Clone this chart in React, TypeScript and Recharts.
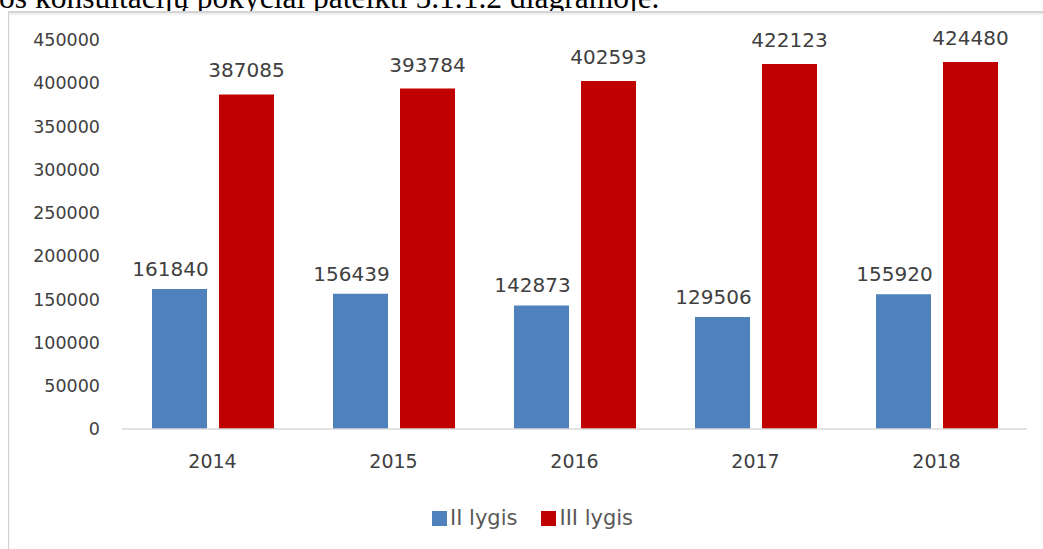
import React from "react";
import { BarChart, Bar, XAxis, YAxis, LabelList } from "recharts";

const years = ["2014", "2015", "2016", "2017", "2018"];
const level2 = [161840, 156439, 142873, 129506, 155920];
const level3 = [387085, 393784, 402593, 422123, 424480];
const yTicks = [0, 50000, 100000, 150000, 200000, 250000, 300000, 350000, 400000, 450000];
const seriesNames = ["II lygis", "III lygis"];
const colors = ["#4F81BD", "#C00000"];

const data = years.map((y, i) => ({ year: y, l2: level2[i], l3: level3[i] }));

const FONT = "'DejaVu Sans', sans-serif";

const makeLabel = (dx: number, gap: number) => (props: any) => {
  const { x, y, width, value } = props;
  return (
    <text
      x={Number(x) + Number(width) / 2 + dx}
      y={Number(y) - gap}
      textAnchor="middle"
      fontFamily={FONT}
      fontSize={20}
      fill="#404040"
    >
      {value}
    </text>
  );
};

export default function App() {
  const CL = 9;
  const CT = 13;
  return (
    <div
      style={{
        position: "absolute",
        left: 0,
        top: 0,
        width: 1043,
        height: 549,
        overflow: "hidden",
        background: "#fff",
      }}
    >
      <div
        style={{
          position: "absolute",
          left: -1,
          top: -18,
          fontFamily: "'Liberation Serif', serif",
          fontSize: 31.5,
          lineHeight: "31px",
          color: "#000",
          whiteSpace: "nowrap",
        }}
      >
        os konsultacijų pokyčiai pateikti 5.1.1.2 diagramoje.
      </div>
      <div
        style={{
          position: "absolute",
          left: 8,
          top: 11,
          width: 1060,
          height: 560,
          borderTop: "2px solid #d4d4d4",
          borderLeft: "1px solid #d0d0d0",
          boxShadow: "inset 0 2px 2px #eee",
          background: "#fff",
        }}
      />
      <div style={{ position: "absolute", left: CL, top: CT }}>
        <BarChart
          width={1034}
          height={536}
          data={data}
          margin={{ top: 27, right: 16, left: 0, bottom: 0 }}
          barGap={12}
          barSize={55}
        >
          <YAxis
            width={113}
            domain={[0, 450000]}
            ticks={yTicks}
            interval={0}
            axisLine={false}
            tickLine={false}
            tickSize={0}
            tickMargin={22}
            tick={{ fontFamily: FONT, fontSize: 17.5, fill: "#404040" }}
          />
          <XAxis
            dataKey="year"
            height={120}
            axisLine={{ stroke: "#d9d9d9", strokeWidth: 1.5 }}
            tickLine={false}
            tickSize={0}
            tickMargin={26}
            tick={{ fontFamily: FONT, fontSize: 19, fill: "#404040" }}
          />
          <Bar dataKey="l2" name={seriesNames[0]} fill={colors[0]} isAnimationActive={false}>
            <LabelList dataKey="l2" content={makeLabel(-9, 13)} />
          </Bar>
          <Bar dataKey="l3" name={seriesNames[1]} fill={colors[1]} isAnimationActive={false}>
            <LabelList dataKey="l3" content={makeLabel(0, 17)} />
          </Bar>
        </BarChart>
      </div>
      <div
        style={{
          position: "absolute",
          left: 432,
          top: 506,
          display: "flex",
          alignItems: "center",
          fontFamily: FONT,
          fontSize: 21,
          color: "#595959",
          whiteSpace: "nowrap",
        }}
      >
        {seriesNames.map((n, i) => (
          <div key={n} style={{ display: "flex", alignItems: "center", marginRight: i === 0 ? 24 : 0 }}>
            <span style={{ display: "inline-block", width: 15, height: 15, background: colors[i], marginRight: 3 }} />
            <span>{n}</span>
          </div>
        ))}
      </div>
    </div>
  );
}
